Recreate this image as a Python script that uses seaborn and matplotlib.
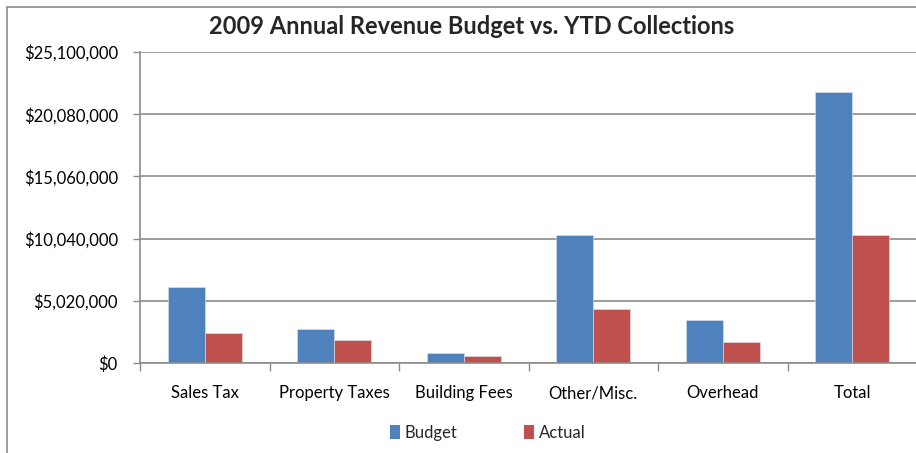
import numpy as np
import pandas as pd
import seaborn as sns
import matplotlib.pyplot as plt
from matplotlib.patches import Rectangle, Patch
from matplotlib.ticker import FuncFormatter, FixedLocator

sns.set_theme(style="white")
plt.rcParams['font.family'] = ['Lato', 'DejaVu Sans']

categories = ["Sales Tax", "Property Taxes", "Building Fees", "Other/Misc.", "Overhead", "Total"]
budget = [6150000, 2780000, 830000, 10310000, 3500000, 21900000]
actual = [2450000, 1860000, 590000, 4370000, 1720000, 10310000]
series = ["Budget", "Actual"]
colors = ["#4F81BD", "#C0504D"]
y_ticks = [0, 5020000, 10040000, 15060000, 20080000, 25100000]

df = pd.DataFrame({
    'category': categories * 2,
    'value': budget + actual,
    'series': ["Budget"] * len(categories) + ["Actual"] * len(categories),
})

W, H = 916, 453
fig = plt.figure(figsize=(W / 100, H / 100), dpi=100)
ax = fig.add_axes([140 / W, 1 - 363 / H, 777 / W, 311 / H])

sns.barplot(data=df, x='category', y='value', hue='series', hue_order=series,
            palette=colors, saturation=1, width=0.57, gap=0, ax=ax, legend=False,
            edgecolor='#dde6f0', linewidth=0.4)

ax.set_xlim(-0.5, len(categories) - 0.5)
ax.set_ylim(0, y_ticks[-1])
ax.set_yticks(y_ticks)
ax.yaxis.set_major_formatter(FuncFormatter(lambda v, p: "${:,.0f}".format(v)))
ax.set_xlabel("")
ax.set_ylabel("")

grid_c = "#8c8c8c"
ax.grid(axis='y', color=grid_c, linewidth=1.2)
ax.set_axisbelow(True)
for s in ['top', 'right']:
    ax.spines[s].set_visible(False)
for s in ['left', 'bottom']:
    ax.spines[s].set_color(grid_c)
    ax.spines[s].set_linewidth(1.2)

ax.tick_params(axis='y', length=5, width=1, color=grid_c, pad=11, labelsize=12, labelcolor='black', left=True)
ax.tick_params(axis='x', which='major', length=0, pad=16, labelsize=12, labelcolor='black')
ax.xaxis.set_minor_locator(FixedLocator(np.arange(-0.5, len(categories), 1.0)))
ax.tick_params(axis='x', which='minor', length=6, width=1, color=grid_c, bottom=True)

fig.text(472 / W, 1 - 27 / H, "2009 Annual Revenue Budget vs. YTD Collections",
         ha='center', va='center', fontsize=17, fontweight='bold')

handles = [Patch(facecolor=c, edgecolor='none') for c in colors]
fig.legend(handles, series, loc='center', bbox_to_anchor=(488 / W, 1 - 433 / H), ncol=2,
           frameon=False, fontsize=12, handlelength=0.6, handleheight=0.9,
           handletextpad=0.3, columnspacing=4.0)

fig.add_artist(Rectangle((7 / W, -0.1), 1.2, 1 - 7 / H + 0.1, transform=fig.transFigure,
                         fill=False, edgecolor="#8c8c8c", linewidth=1.2))

fig.savefig("out.png", dpi=100)
